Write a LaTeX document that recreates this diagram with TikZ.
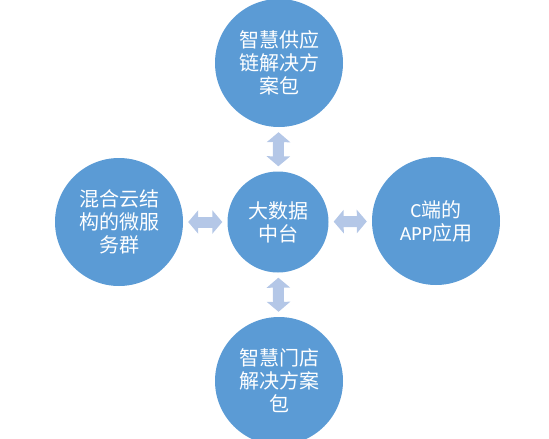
\documentclass[tikz,border=0pt]{standalone}
\usepackage{fontspec}
\setmainfont{Carlito}
\newfontfamily\cjk{Noto Sans CJK SC}
\usetikzlibrary{arrows.meta,positioning}
\definecolor{hubblue}{HTML}{5B9BD5}
\definecolor{linkblue}{HTML}{B4C7E7}

\begin{document}
\begin{tikzpicture}[x=1pt, y=-1pt, >=Stealth,
  hub/.style={circle, fill=hubblue, text=white, align=center, inner sep=0pt,
    font=\cjk\fontsize{20}{23}\selectfont},
  link/.style={draw=linkblue, line width=11pt,
    {Triangle[width=23pt,length=10pt]}-{Triangle[width=23pt,length=10pt]},
    shorten <=5pt, shorten >=5pt}]
\useasboundingbox (0,0) rectangle (549,439);
\clip (0,0) rectangle (549,439);
\node[hub, minimum size=101pt] (core) at (278,222) {大数据\\中台};
\node[hub, minimum size=128pt] (supply) at (279,63) {智慧供应\\链解决方\\案包};
\node[hub, minimum size=128pt] (micro) at (119,222) {混合云结\\构的微服\\务群};
\node[hub, minimum size=128pt] (app) at (436,221) {{\rmfamily C}端的\\{\rmfamily APP}应用};
\node[hub, minimum size=128pt] (store) at (279,381) {智慧门店\\解决方案\\包};
% links to the core
\draw[link] (supply) -- (core);
\draw[link] (store) -- (core);
\draw[link] (micro) -- (core);
\draw[link] (app) -- (core);
\end{tikzpicture}
\end{document}
